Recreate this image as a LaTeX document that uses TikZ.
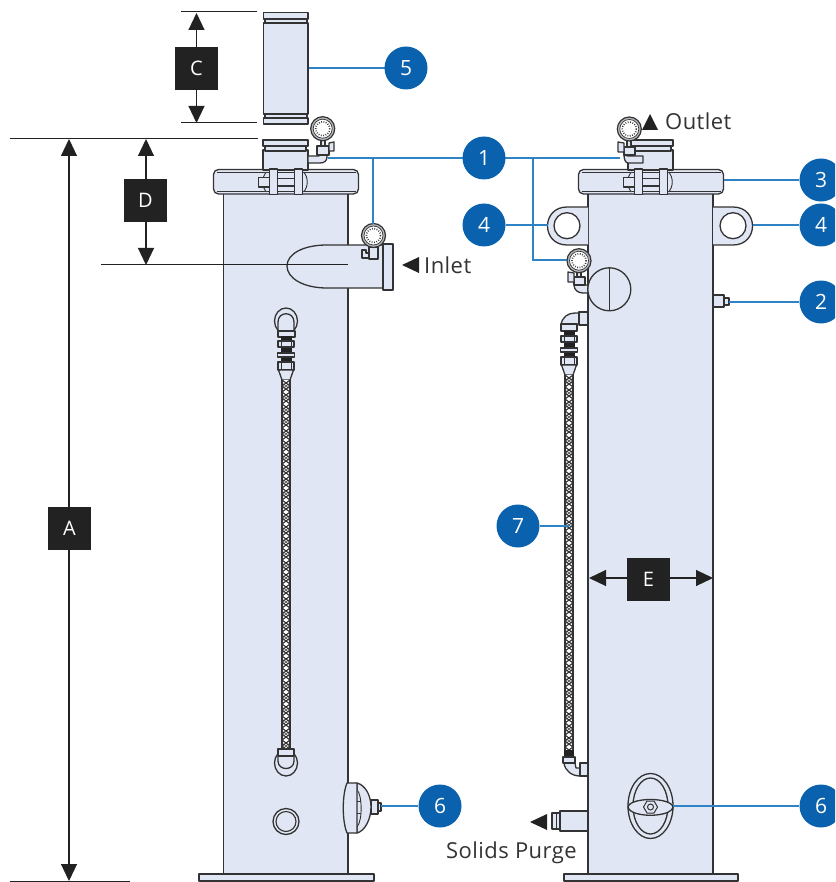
\documentclass[tikz,border=0pt]{standalone}
\usepackage{fontspec}
\setmainfont{Open Sans}[LetterSpace=2]
\usetikzlibrary{arrows.meta}
\definecolor{bodyc}{HTML}{E0E6F3}
\definecolor{linec}{HTML}{333333}
\definecolor{leadc}{HTML}{2F83C5}
\definecolor{bubc}{HTML}{0A62AE}
\definecolor{inkc}{HTML}{222222}
\tikzset{
  part/.style={draw=linec,line width=1.3pt,fill=bodyc,line join=round},
  thin part/.style={draw=linec,line width=0.9pt},
  lead/.style={draw=leadc,line width=1.3pt},
  bub/.style={circle,fill=bubc,text=white,minimum size=43pt,inner sep=0pt,font=\fontsize{21}{21}\selectfont},
  dimbox/.style={fill=inkc,text=white,minimum width=43pt,minimum height=43pt,inner sep=0pt,font=\fontsize{20}{20}\selectfont},
  dimline/.style={draw=inkc,line width=1.1pt,{Triangle[length=17pt,width=16pt]}-{Triangle[length=17pt,width=16pt]}},
  ref/.style={draw=inkc,line width=1pt},
  lbl/.style={text=linec,font=\fontsize{22}{22}\selectfont,inner sep=0pt},
  tri/.style={fill=inkc},
}
% gauge dial at (x,y)
\newcommand{\dial}[2]{%
  \draw[draw=linec,line width=1.2pt,fill=bodyc!55!gray] (#1,#2) circle (12);
  \draw[draw=linec,line width=0.7pt,fill=white] (#1,#2) circle (9.5);
  \draw[draw=linec,line width=1.6pt,dash pattern=on 0.8pt off 1.6pt] (#1,#2) circle (7);
}
% flange with clamp; #1 = body left x
\newcommand{\flangeset}[1]{%
  \begin{scope}[shift={(#1,0)}]
    \draw[part,rounded corners=5pt] (-10,169.5) rectangle (135,194);
    \draw[thin part] (-7,172.5) -- (132,172.5);
    \draw[thin part] (-7,191) -- (132,191);
    \draw[part] (39.5,150) rectangle (84.5,170);
    \draw[thin part,fill=bodyc] (80,172) .. controls (85,177) and (85,187) .. (80,192);
    \draw[thin part,fill=bodyc] (43,172) .. controls (38,177) and (38,187) .. (43,192);
    \draw[part] (35,177.5) rectangle (46,187);
    \draw[part] (46,178.5) rectangle (72,186);
    \draw[part] (46,169) rectangle (54,194.5);
    \draw[part] (71,169) rectangle (79,194.5);
    \draw[part] (41.5,146) rectangle (82.5,151);
    \draw[part] (39.5,140) rectangle (84.5,146);
  \end{scope}
}
% fittings above hose, c centre, Y top of dark section
\newcommand{\fittings}[2]{%
  \fill[inkc] (#1-5.5,#2) rectangle (#1+5.5,#2+27);
  \draw[part] (#1-8,#2+5) rectangle (#1+8,#2+11);
  \draw[part] (#1-8.5,#2+17) rectangle (#1+8.5,#2+21);
  \draw[part] (#1-8,#2+26) rectangle (#1+8,#2+34);
  \draw[thin part] (#1-5,#2+5) -- (#1-5,#2+11) (#1+5,#2+5) -- (#1+5,#2+11);
  \draw[thin part] (#1-5,#2+26) -- (#1-5,#2+34) (#1+5,#2+26) -- (#1+5,#2+34);
  \draw[part] (#1-7.5,#2+34) -- (#1-4,#2+44) -- (#1+4,#2+44) -- (#1+7.5,#2+34) -- cycle;
}
% braided hose, c centre, from y1 to y2
\newcommand{\hose}[3]{%
  \fill[white] (#1-4,#2) rectangle (#1+4,#3);
  \begin{scope}
    \clip (#1-4,#2) rectangle (#1+4,#3);
    \pgfmathtruncatemacro{\hosenext}{#2+12}
    \foreach \yy in {#2,\hosenext,...,#3} {
      \draw[draw=linec,line width=1.1pt] (#1-4,\yy) -- (#1+4,\yy+6) -- (#1-4,\yy+12);
      \draw[draw=linec,line width=1.1pt] (#1+4,\yy) -- (#1-4,\yy+6) -- (#1+4,\yy+12);
      \draw[draw=linec,line width=0.5pt] (#1-4,\yy+3) -- (#1+4,\yy+9) (#1+4,\yy+3) -- (#1-4,\yy+9);
    }
  \end{scope}
  \draw[draw=linec,line width=1.2pt] (#1-4,#2) -- (#1-4,#3) (#1+4,#2) -- (#1+4,#3);
}
\begin{document}
\begin{tikzpicture}[x=1pt,y=-1pt]
\useasboundingbox (0,0) rectangle (835,882);
\clip (0,0) rectangle (835,882);

% ---------- reference coordinates
\coordinate (aT) at (69,139); \coordinate (aB) at (69,881);
\coordinate (cT) at (196.5,13); \coordinate (cB) at (196.5,123);
\coordinate (dT) at (146,139); \coordinate (dB) at (146,265);
\coordinate (eL) at (589,578); \coordinate (eR) at (713,578);

% ---------- left unit
\draw[part] (199,874) rectangle (374,881);
\draw[part] (223.5,190) rectangle (348,874);
\flangeset{223.5}
% upper spool
\draw[part] (265,19) rectangle (307,23);
\draw[part] (265,114) rectangle (307,118);
\draw[part] (263.5,23) rectangle (308,114);
\draw[part] (263.5,12.5) rectangle (308,19);
\draw[part] (263.5,118) rectangle (308,124);
% inlet
\draw[part] (383,245) -- (327,245) .. controls (303,245) and (287,254) .. (287,266) .. controls (287,278) and (303,288) .. (327,288) -- (383,288) -- cycle;
\draw[part] (383,244) rectangle (393,290);
\draw[part] (362,250) -- (362,258) -- (369,258) -- (369,253) -- (366,253) -- (366,250) -- cycle;
\draw[part] (369,247) rectangle (378,259);
\dial{373.5}{235.5}
% top gauge, left unit
\draw[part] (308,156) -- (319,156) -- (319,150) -- (327,150) -- (327,157) .. controls (327,161) and (324,163) .. (320,163) -- (308,163) -- cycle;
\draw[part] (317,146) rectangle (329,155);
\draw[part] (329,143) -- (334,142) -- (334,151) -- (329,151) -- cycle;
\draw[part] (321,139) rectangle (325,146);
\dial{322.7}{128.7}
% hose, left
\draw[draw=linec,line width=1.3pt] (286,321) ellipse [x radius=11.5,y radius=13];
\draw[draw=linec,line width=1.3pt] (278,331) -- (278,322) .. controls (278,311) and (294,311) .. (294,322) -- (294,331);
\draw[part] (278,331) rectangle (295,337);
\fittings{286}{336}
\hose{286}{380}{749}
\draw[draw=linec,line width=1.3pt] (286,763) ellipse [x radius=11.5,y radius=13];
\draw[draw=linec,line width=1.3pt] (278,755) -- (278,761) .. controls (278,771) and (294,771) .. (294,761) -- (294,755);
\draw[part] (278,749) rectangle (294,756);
\draw[draw=linec,line width=1.3pt] (286,821.5) circle (13);
\draw[draw=linec,line width=1.1pt] (286,821.5) circle (10);
% left valve
\draw[part] (371,800) rectangle (378,814);
\draw[part] (378,803) rectangle (381,811);
\draw[part] (357,783) .. controls (365,785) and (371,795) .. (371,807) .. controls (371,819) and (365,831) .. (357,833) -- cycle;
\draw[thin part,fill=bodyc] (357,790) .. controls (362,794) and (363,820) .. (357,827);
\draw[thin part] (357,801) -- (361,801) (357,813) -- (361,813);
\draw[part] (347,783) .. controls (342,795) and (342,821) .. (347,833) -- (357,833) -- (357,783) -- cycle;

% D / inlet centre line (over the body)
\coordinate (dRefL) at (101,265); \coordinate (dRefR) at (348,265);
\draw[ref] (dRefL) -- (dRefR);

% ---------- right unit
\draw[part] (564,874) rectangle (738,881);
\draw[part] (588,190) rectangle (713,874);
% lugs
\draw[part] (713,207) -- (733,207) .. controls (759,207) and (759,245) .. (733,245) -- (713,245);
\draw[part] (588,207) -- (567,207) .. controls (541,207) and (541,245) .. (567,245) -- (588,245);
\draw[draw=linec,line width=1.3pt,fill=white] (567,225.7) circle (13);
\draw[draw=linec,line width=1.3pt,fill=white] (733,225.7) circle (13);
\flangeset{588.5}
% top gauge, right unit
\draw[part] (628,156) -- (643,156) -- (643,163) -- (628,163) .. controls (625,163) and (624,158) .. (624,155) -- cycle;
\draw[part] (624,147) rectangle (635,155);
\draw[part] (624,143) -- (618,142) -- (618,152) -- (624,152) -- cycle;
\draw[part] (627,139) rectangle (631,147);
\dial{629.3}{129}
% side gauge, right unit
\draw[part] (574,285) .. controls (574,290) and (578,293) .. (583,293) -- (588,293) -- (588,285) -- cycle;
\draw[part] (574,277) rectangle (585,285);
\draw[part] (574,273) -- (568,272) -- (568,282) -- (574,282) -- cycle;
\draw[part] (577,270) rectangle (581,277);
\dial{579}{260.7}
\draw[part] (609.3,289.3) circle (21.5);
\draw[thin part] (609,268) -- (609,311);
% port 2
\draw[part] (713,295) rectangle (724,307);
\draw[part] (724,298) rectangle (729,305);
% right hose upper elbow
\draw[part] (561,325) .. controls (562,317) and (568,313) .. (575,313) -- (579,313) -- (579,324) -- (572,325) -- cycle;
\draw[part] (579,312) rectangle (588,325);
\draw[part] (561,324) rectangle (577,331);
\fittings{569}{331}
\hose{569}{375}{751}
% right hose lower elbow
\fill[inkc] (564,750) rectangle (574,758);
\draw[part] (564,763) .. controls (565,771) and (572,776) .. (580,776) -- (580,768) -- (576,768) -- (575,763) -- cycle;
\draw[part] (563,757) rectangle (575,763);
\draw[part] (580,763) rectangle (588,776);
% right valve
\draw[draw=linec,line width=1.3pt] (650.5,806) ellipse [x radius=22.5,y radius=32.5];
\draw[draw=linec,line width=1.3pt] (650.5,806) ellipse [x radius=17.5,y radius=28];
\draw[part] (628,807) .. controls (630,797) and (671,797) .. (673,807) .. controls (671,818) and (630,818) .. (628,807) -- cycle;
\draw[draw=linec,line width=1pt,fill=bodyc] (657.5,807) -- (654,801) -- (647,801) -- (643.5,807) -- (647,813) -- (654,813) -- cycle;
\draw[draw=linec,line width=1pt] (650.5,807) circle (3);
% purge
\draw[part] (560,811) rectangle (588,831);
\draw[part] (552,813) rectangle (560,829);
\draw[thin part] (556,813) -- (556,829);

% ---------- dimension reference lines
\coordinate (a1) at (10,138.5); \coordinate (a2) at (258,138.5);
\coordinate (b1) at (10,881); \coordinate (b2) at (130,881);
\coordinate (c1) at (181,12); \coordinate (c2) at (257,12);
\coordinate (c3) at (181,123); \coordinate (c4) at (257,123);
\draw[ref] (a1) -- (a2);
\draw[ref] (b1) -- (b2);
\draw[ref] (c1) -- (c2);
\draw[ref] (c3) -- (c4);
\draw[dimline] (aT) -- (aB);
\draw[dimline] (cT) -- (cB);
\draw[dimline] (dT) -- (dB);
\draw[dimline] (eL) -- (eR);
\node[dimbox] (A) at (69.5,528.5) {A};
\node[dimbox] (C) at (196.5,68.5) {C};
\node[dimbox] (D) at (145.5,200.5) {D};
\node[dimbox] (E) at (648.5,579) {E};

% ---------- leader ends
\coordinate (p5) at (406,68);
\coordinate (p1) at (484,158);
\coordinate (l5) at (309,68);
\coordinate (l1a) at (328,158); \coordinate (l1b) at (620,158);
\coordinate (g1) at (373,158); \coordinate (g1e) at (373,224);
\coordinate (g2) at (533,158); \coordinate (g2c) at (533,260); \coordinate (g2e) at (567,260);
\coordinate (l4a) at (548,225); \coordinate (l4b) at (753,225);
\coordinate (l3) at (724,180); \coordinate (l2) at (729,302);
\coordinate (l7) at (569,526); \coordinate (l6a) at (381,806); \coordinate (l6b) at (673,806);
\draw[lead] (l1a) -- (l1b);
\draw[lead] (g1) -- (g1e);
\draw[lead] (g2) -- (g2c) -- (g2e);
\draw[lead] (l5) -- (p5);

% ---------- number bubbles
\node[bub] (n5) at (p5) {5};
\node[bub] (n1) at (p1) {1};
\node[bub] (n4a) at (484,225) {4};
\node[bub] (n3) at (821,180) {3};
\node[bub] (n4b) at (821,225) {4};
\node[bub] (n2) at (821,302) {2};
\node[bub] (n7) at (518,526) {7};
\node[bub] (n6a) at (440,806) {6};
\node[bub] (n6b) at (821,806) {6};
\draw[lead] (n4a) -- (l4a);
\draw[lead] (l4b) -- (n4b);
\draw[lead] (l3) -- (n3);
\draw[lead] (l2) -- (n2);
\draw[lead] (n7) -- (l7);
\draw[lead] (l6a) -- (n6a);
\draw[lead] (l6b) -- (n6b);

% ---------- flow labels
\fill[tri] (402,265) -- (419,257) -- (419,273) -- cycle;
\node[lbl,anchor=base west] (inlet) at (424,273) {Inlet};
\fill[tri] (642,130) -- (650,114) -- (658,130) -- cycle;
\node[lbl,anchor=base west] (outlet) at (665,129.5) {Outlet};
\fill[tri] (530,822) -- (547,814) -- (547,830) -- cycle;
\node[lbl,anchor=base west] (purge) at (446,858) {Solids Purge};
\end{tikzpicture}
\end{document}
